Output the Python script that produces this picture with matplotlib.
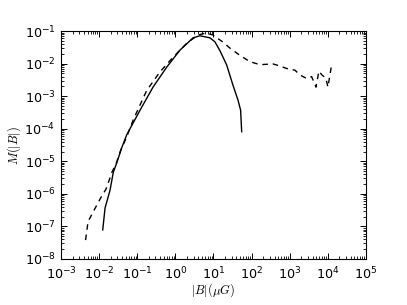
import numpy as np
import matplotlib
matplotlib.use('Agg')
import matplotlib.pyplot as plt

plt.rcParams['mathtext.fontset'] = 'cm'
plt.rcParams['font.family'] = 'DejaVu Sans'

# courbe pleine
B_plein = [0.0124, 0.0143, 0.0193, 0.0236, 0.0289, 0.0391, 0.0528, 0.118, 0.259,
           0.592, 1.32, 2.90, 4.43, 8.09, 10.9, 14.8, 22.2, 32.4, 44.0, 51.6, 55.0]
M_plein = [7.8e-8, 3.7e-7, 1.3e-6, 4.7e-6, 8.9e-6, 2.6e-5, 6.5e-5, 3.7e-4, 1.9e-3,
           7.8e-3, 0.026, 0.062, 0.072, 0.062, 0.047, 0.025, 9.1e-3, 2.2e-3, 7.6e-4,
           3.7e-4, 8.1e-5]

# courbe en tirets
B_tiret = [0.0044, 0.00511, 0.0065, 0.01054, 0.0151, 0.0193, 0.0218, 0.0277, 0.0368,
           0.0528, 0.0787, 0.177, 0.395, 0.883, 1.98, 3.92, 6.35, 9.70, 17.7, 27.1,
           49.5, 90.6, 166, 364, 555, 832, 1374, 1858, 2786, 3767, 4887, 5848, 7015,
           8933, 10070, 12590]
M_tiret = [3.8e-8, 1.4e-7, 2.4e-7, 6.9e-7, 1.4e-6, 3.1e-6, 4.7e-6, 8.3e-6, 2.2e-5,
           5.6e-5, 1.9e-4, 1.5e-3, 5.6e-3, 0.016, 0.042, 0.076, 0.087, 0.076, 0.046,
           0.030, 0.018, 0.0115, 0.0093, 0.0098, 0.0085, 0.0071, 0.0063, 0.0045,
           0.0035, 0.0040, 0.0019, 0.0059, 0.0045, 0.0036, 0.0019, 0.0091]

fig = plt.figure(figsize=(4.07, 3.05), dpi=100)
ax = fig.add_axes([0.150, 0.151, 0.749, 0.747])

ax.plot(B_plein, M_plein, color='k', lw=1.0)
ax.plot(B_tiret, M_tiret, color='k', lw=1.0, dashes=(4, 3.5))

ax.set_xscale('log')
ax.set_yscale('log')
ax.set_xlim(1e-3, 1e5)
ax.set_ylim(1e-8, 1e-1)

ax.tick_params(which='both', direction='in', top=True, right=True, labelsize=9.2)
ax.tick_params(which='major', length=4, width=0.7)
ax.tick_params(axis='x', which='major', pad=5)
ax.tick_params(axis='y', which='major', pad=4)
ax.tick_params(which='minor', length=2, width=0.6)
ax.xaxis.set_major_locator(matplotlib.ticker.LogLocator(base=10, numticks=20))
ax.xaxis.set_minor_locator(matplotlib.ticker.LogLocator(base=10, subs=np.arange(2, 10), numticks=100))
ax.yaxis.set_major_locator(matplotlib.ticker.LogLocator(base=10, numticks=20))
ax.yaxis.set_minor_locator(matplotlib.ticker.LogLocator(base=10, subs=np.arange(2, 10), numticks=100))
ax.xaxis.set_minor_formatter(matplotlib.ticker.NullFormatter())
ax.yaxis.set_minor_formatter(matplotlib.ticker.NullFormatter())

ax.set_xlabel(r'$|B|(\mu G)$', fontsize=9, labelpad=-1)
ax.set_ylabel(r'$M(|B|)$', fontsize=9, labelpad=1)

fig.savefig('out.png', dpi=100)
